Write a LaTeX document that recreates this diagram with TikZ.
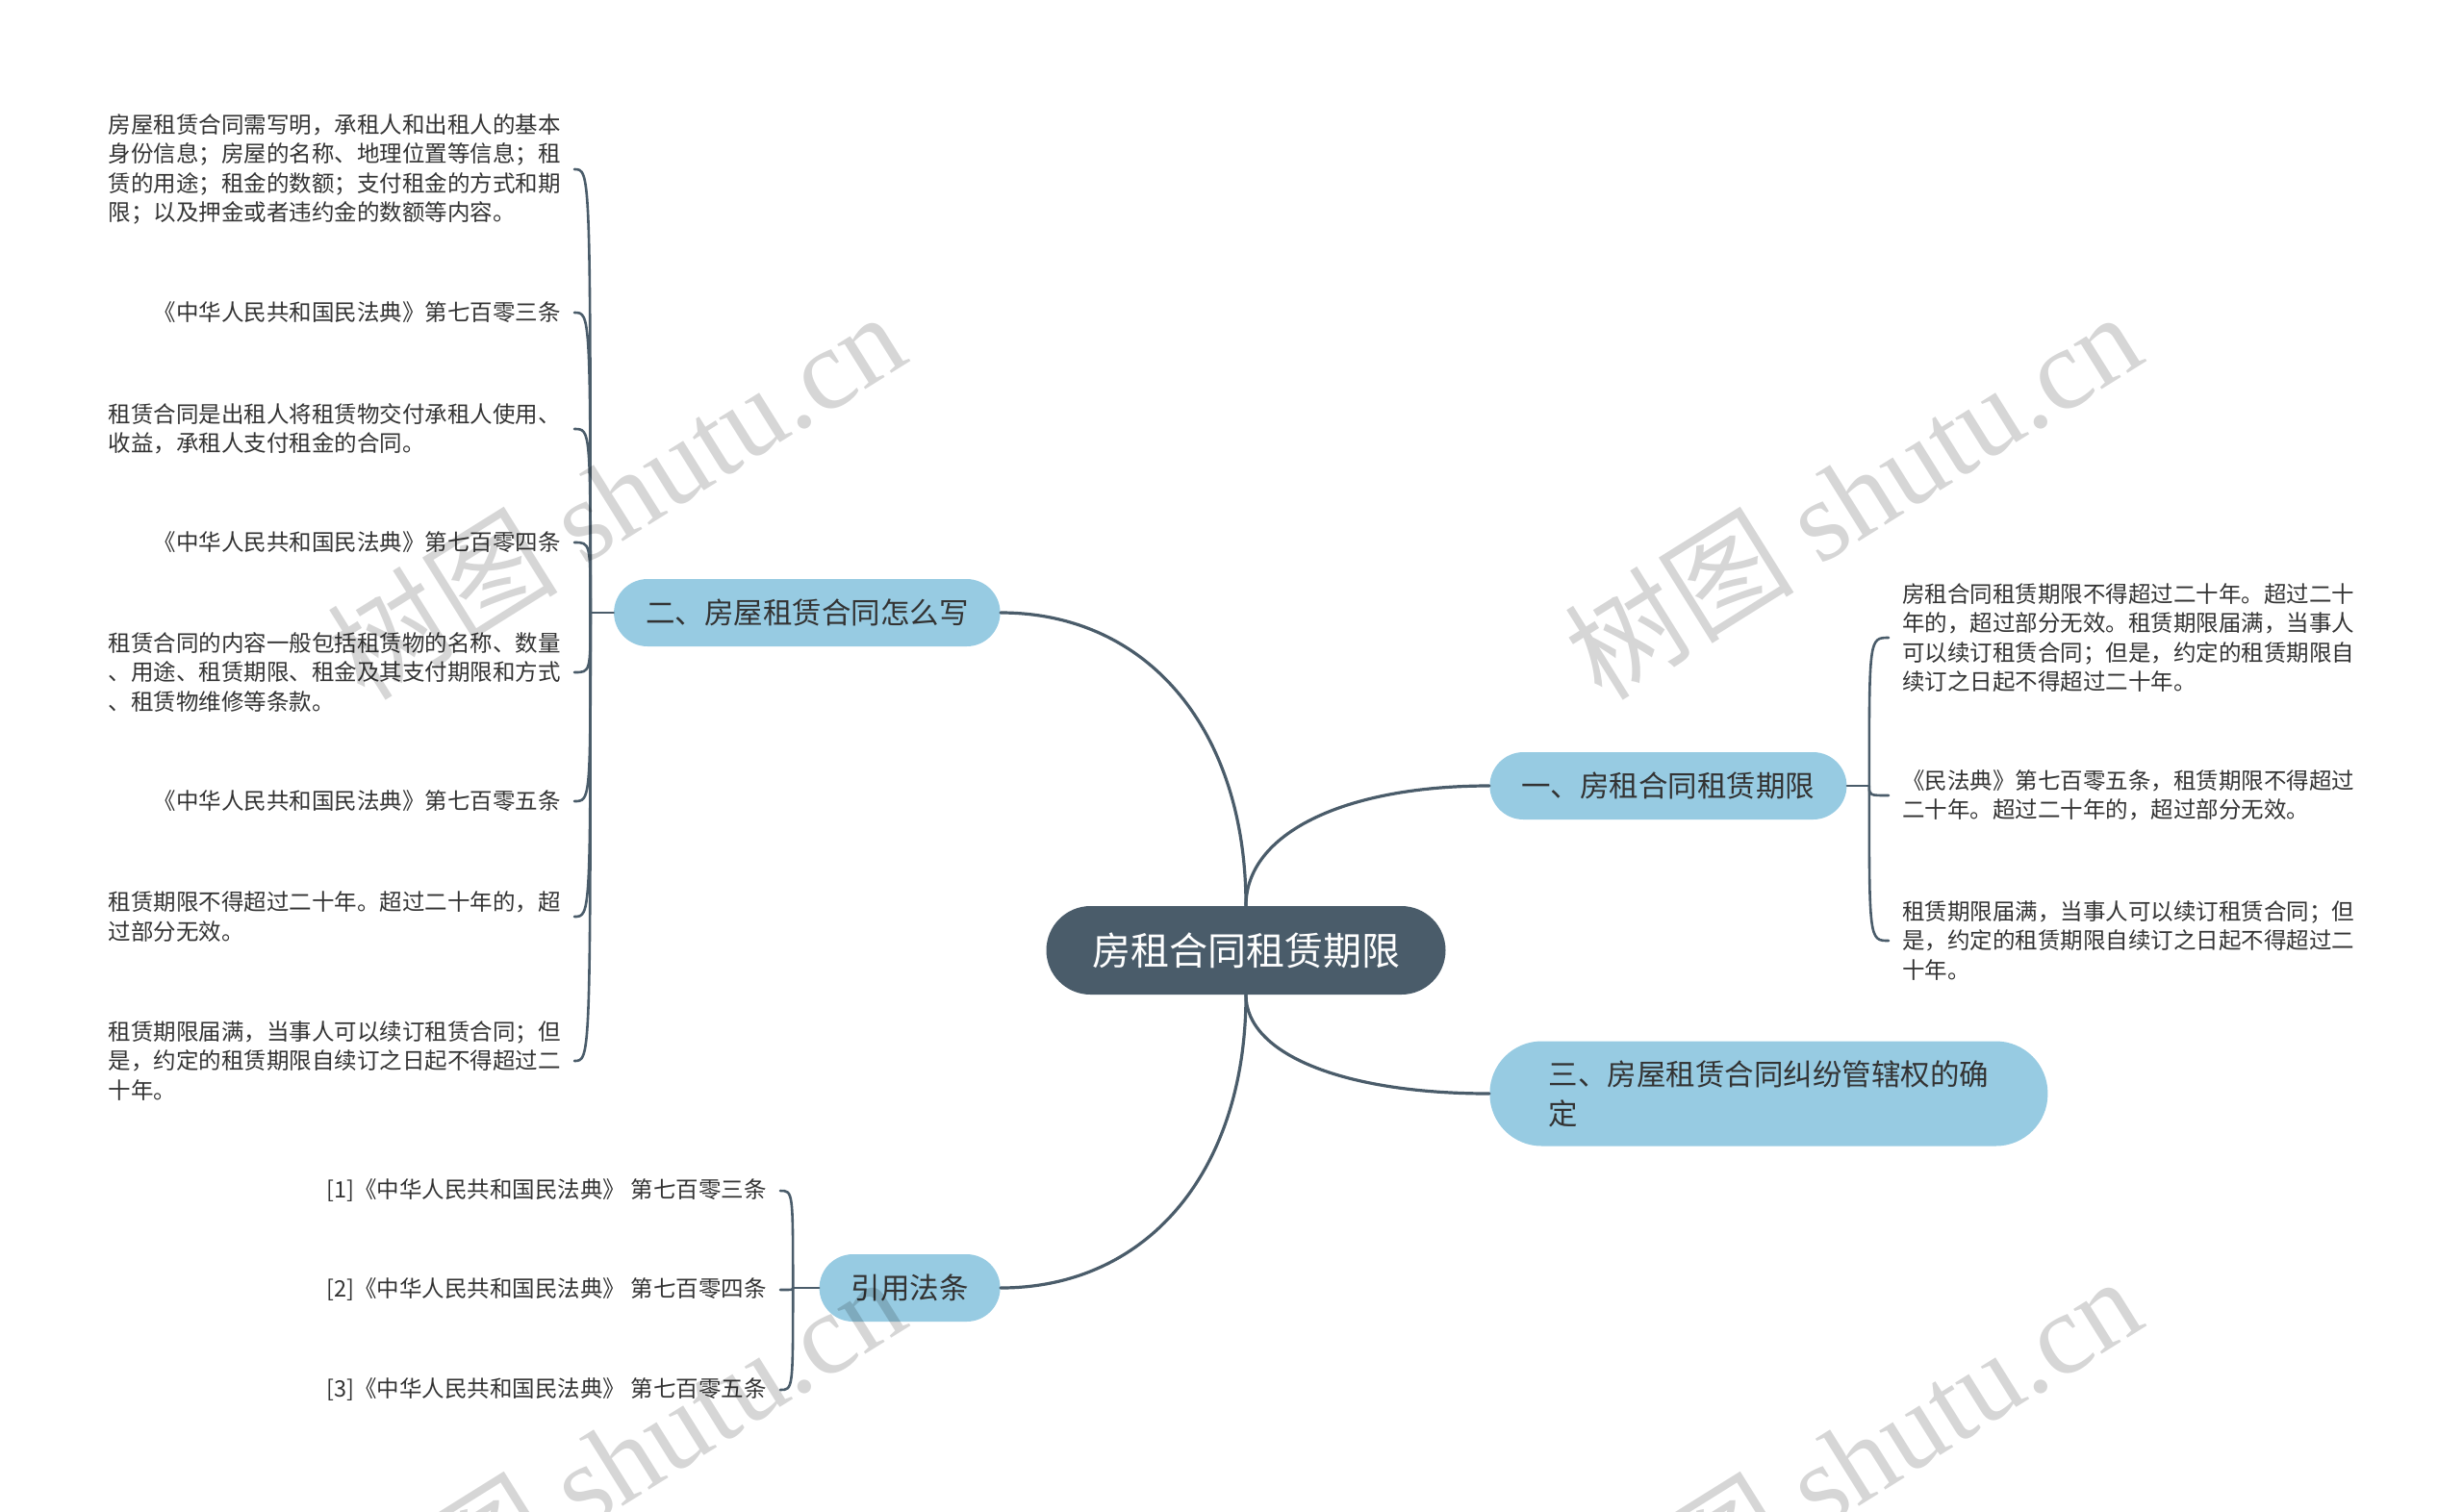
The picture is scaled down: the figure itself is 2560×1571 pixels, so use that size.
\documentclass[tikz,border=0pt]{standalone}
\usepackage{fontspec}
\usetikzlibrary{calc}
\setmainfont{Noto Sans CJK SC}
\newfontfamily\wmlatin{Liberation Serif}
\definecolor{slate}{HTML}{4A5C6A}
\definecolor{skyfill}{HTML}{97CBE2}
\definecolor{inktext}{HTML}{333333}
\tikzset{
  rootbox/.style={rectangle, fill=slate, text=white, rounded corners=23pt,
    minimum width=207.5pt, minimum height=46pt, font=\fontsize{20}{24}\selectfont},
  topic/.style={rectangle, fill=skyfill, text=inktext, rounded corners=17.5pt,
    minimum height=35pt, inner xsep=16.5pt, font=\fontsize{15.25}{20.5}\selectfont},
  leaf/.style={inner xsep=7pt, inner ysep=1pt, align=left, text=inktext,
    font=\fontsize{11.75}{15.25}\selectfont},
  link/.style={draw=slate, line width=1.6pt},
  twig/.style={draw=slate, line width=1.3pt},
  wmark/.style={text=black, opacity=0.16, rotate=32, font=\fontsize{60}{60}\selectfont}
}
\begin{document}
\begin{tikzpicture}[x=0.5pt, y=-0.5pt, line cap=round, line join=round]
  \useasboundingbox (0,0) rectangle (2560,1571);
  % centre and main topics
  \node[rootbox] (root) at (1295,988) {房租合同租赁期限};
  \node[topic, anchor=west] (b1) at (1548,817) {一、房租合同租赁期限};
  \node[topic, anchor=east] (b2) at (1040,637) {二、房屋租赁合同怎么写};
  \node[topic, anchor=west, align=left, minimum width=290pt, minimum height=54.5pt,
    rounded corners=27pt] (b3) at (1548,1137) {三、房屋租赁合同纠纷管辖权的确\\定};
  \node[topic, anchor=east] (b4) at (1040,1339) {引用法条};
  \coordinate (k1) at (root.north |- b1.west);
  \coordinate (k2) at (root.north |- b2.east);
  \coordinate (k3) at (root.south |- b3.west);
  \coordinate (k4) at (root.south |- b4.east);
  \draw[link] (root.north) .. controls ($(root.north)!0.6!(k1)$) and ($(b1.west)!0.6!(k1)$) .. (b1.west);
  \draw[link] (root.north) .. controls ($(root.north)!0.6!(k2)$) and ($(b2.east)!0.6!(k2)$) .. (b2.east);
  \draw[link] (root.south) .. controls ($(root.south)!0.6!(k3)$) and ($(b3.west)!0.6!(k3)$) .. (b3.west);
  \draw[link] (root.south) .. controls ($(root.south)!0.6!(k4)$) and ($(b4.east)!0.6!(k4)$) .. (b4.east);
  % leaves of b1
  \node[leaf, anchor=west] (r1) at (1963,663) {房租合同租赁期限不得超过二十年。超过二十\\年的，超过部分无效。租赁期限届满，当事人\\可以续订租赁合同；但是，约定的租赁期限自\\续订之日起不得超过二十年。};
  \node[leaf, anchor=west] (r2) at (1963,827) {《民法典》第七百零五条，租赁期限不得超过\\二十年。超过二十年的，超过部分无效。};
  \node[leaf, anchor=west] (r3) at (1963,978) {租赁期限届满，当事人可以续订租赁合同；但\\是，约定的租赁期限自续订之日起不得超过二\\十年。};
  \draw[twig] (b1.east) -- ++(23,0) coordinate (j1);
  \foreach \n in {r1,r2,r3} \draw[twig] (j1) .. controls (j1 |- \n.west) .. (\n.west);
  % leaves of b2
  \node[leaf, anchor=east] (l1) at (597,176) {房屋租赁合同需写明，承租人和出租人的基本\\身份信息；房屋的名称、地理位置等信息；租\\赁的用途；租金的数额；支付租金的方式和期\\限；以及押金或者违约金的数额等内容。};
  \node[leaf, anchor=east] (l2) at (597,325) {《中华人民共和国民法典》第七百零三条};
  \node[leaf, anchor=east] (l3) at (597,446) {租赁合同是出租人将租赁物交付承租人使用、\\收益，承租人支付租金的合同。};
  \node[leaf, anchor=east] (l4) at (597,564) {《中华人民共和国民法典》第七百零四条};
  \node[leaf, anchor=east] (l5) at (597,699) {租赁合同的内容一般包括租赁物的名称、数量\\、用途、租赁期限、租金及其支付期限和方式\\、租赁物维修等条款。};
  \node[leaf, anchor=east] (l6) at (597,833) {《中华人民共和国民法典》第七百零五条};
  \node[leaf, anchor=east] (l7) at (597,953) {租赁期限不得超过二十年。超过二十年的，超\\过部分无效。};
  \node[leaf, anchor=east] (l8) at (597,1103) {租赁期限届满，当事人可以续订租赁合同；但\\是，约定的租赁期限自续订之日起不得超过二\\十年。};
  \draw[twig] (b2.west) -- ++(-24,0) coordinate (j2);
  \foreach \n in {l1,l2,l3,l4,l5,l6,l7,l8} \draw[twig] (j2) .. controls (j2 |- \n.east) .. (\n.east);
  % leaves of b4
  \node[leaf, anchor=east] (c1) at (811,1238) {[1]《中华人民共和国民法典》 第七百零三条};
  \node[leaf, anchor=east] (c2) at (811,1341) {[2]《中华人民共和国民法典》 第七百零四条};
  \node[leaf, anchor=east] (c3) at (811,1445) {[3]《中华人民共和国民法典》 第七百零五条};
  \draw[twig] (b4.west) -- ++(-27,0) coordinate (j4);
  \foreach \n in {c1,c2,c3} \draw[twig] (j4) .. controls (j4 |- \n.east) .. (\n.east);
  % watermarks
  \node[wmark] (wm1) at (640,514) {树图 {\wmlatin shutu.cn}};
  \node[wmark] (wm2) at (1925,514) {树图 {\wmlatin shutu.cn}};
  \node[wmark] (wm3) at (640,1517) {树图 {\wmlatin shutu.cn}};
  \node[wmark] (wm4) at (1925,1517) {树图 {\wmlatin shutu.cn}};
\end{tikzpicture}
\end{document}
